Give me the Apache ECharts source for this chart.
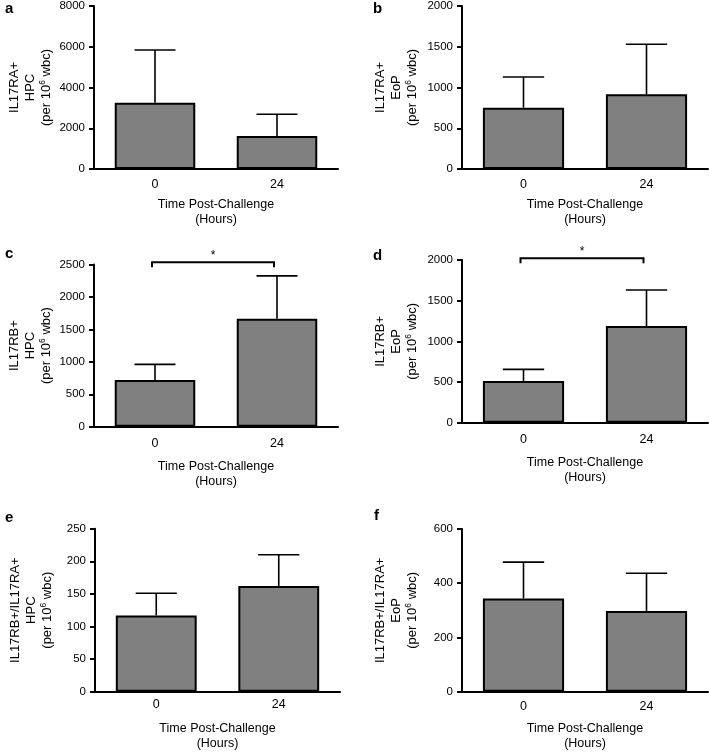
<!DOCTYPE html>
<html>
<head>
<meta charset="utf-8">
<script src="https://cdn.jsdelivr.net/npm/echarts@6/dist/echarts.min.js"></script>
<style>
html,body{margin:0;padding:0;background:#fff;}
#chart{width:709px;height:752px;}
</style>
</head>
<body>
<div id="chart"></div>
<script>
// ---- data ----
const categories = ['0', '24'];
const meanA = [3250, 1620];  const errA = [2590, 1070];
const meanB = [752, 916];    const errB = [377, 614];
const meanC = [719, 1663];   const errC = [241, 661];
const meanD = [513, 1189];   const errD = [143, 442];
const meanE = [117, 162];    const errE = [34, 48];
const meanF = [344, 298];    const errF = [134, 139];
const yMax = [8000, 2000, 2500, 2000, 250, 600];
const yInterval = [2000, 500, 500, 500, 50, 200];
const yTitleLine1 = ['IL17RA+', 'IL17RA+', 'IL17RB+', 'IL17RB+', 'IL17RB+/IL17RA+', 'IL17RB+/IL17RA+'];
const yTitleLine2 = ['HPC', 'EoP', 'HPC', 'EoP', 'HPC', 'EoP'];
const xTitle = 'Time Post-Challenge\n(Hours)';
const panelLetters = ['a', 'b', 'c', 'd', 'e', 'f'];
// significance brackets
const sigPanels = [2, 3];
const sigLevels = [2535, 2021];
const sigLabels = ['*', '*'];

const means = [meanA, meanB, meanC, meanD, meanE, meanF];
const errs = [errA, errB, errC, errD, errE, errF];

// ---- layout ----
const FONT = "'Liberation Sans', Arial, Helvetica, sans-serif";
const grids = [
  {left: 94, top: 6, width: 244, height: 163},
  {left: 462, top: 6, width: 246, height: 163},
  {left: 94, top: 264.5, width: 244, height: 162.2},
  {left: 462, top: 260, width: 246, height: 162.7},
  {left: 95, top: 528.7, width: 245, height: 163},
  {left: 462, top: 529, width: 246, height: 162.7}
];
const xLabelMargin = [9, 9, 10, 10.5, 6, 8];
const xNameGap = [28.5, 28.5, 32.5, 32.5, 29, 29];
const yNameGap = [40, 42, 40, 42, 40, 42];
const letterPos = [[5, 1], [373, 1], [5, 246], [373, 248], [5, 510], [374, 508]];

const chart = echarts.init(document.getElementById('chart'), null, {renderer: 'canvas'});

const xAxes = [], yAxes = [], series = [], graphics = [];
grids.forEach((g, i) => {
  xAxes.push({
    type: 'category', gridIndex: i, data: categories,
    axisLine: {lineStyle: {color: '#000', width: 2}},
    axisTick: {show: false},
    axisLabel: {color: '#000', fontSize: 12.5, fontFamily: FONT, margin: xLabelMargin[i]},
    name: xTitle, nameLocation: 'middle', nameGap: xNameGap[i],
    nameTextStyle: {color: '#000', fontSize: 12.5, fontFamily: FONT, lineHeight: 15}
  });
  const nm = '{t|' + yTitleLine1[i] + '}\n{t|' + yTitleLine2[i] + '}\n{t|(per 10}{s|6}{t| wbc)}';
  yAxes.push({
    type: 'value', gridIndex: i, min: 0, max: yMax[i], interval: yInterval[i],
    axisLine: {show: true, lineStyle: {color: '#000', width: 2}},
    axisTick: {show: true, length: 5, lineStyle: {color: '#000', width: 2}},
    splitLine: {show: false},
    axisLabel: {color: '#000', fontSize: 11.5, fontFamily: FONT, margin: 9,
                formatter: v => String(v)},
    name: nm, nameLocation: 'middle', nameGap: yNameGap[i], nameRotate: 90,
    nameTextStyle: {
      color: '#000', fontFamily: FONT, fontSize: 13, lineHeight: 16, align: 'center',
      rich: {
        t: {fontSize: 13, lineHeight: 16, fontFamily: FONT, color: '#000'},
        s: {fontSize: 8.5, lineHeight: 8, verticalAlign: 'top', fontFamily: FONT, color: '#000'}
      }
    }
  });
  series.push({
    type: 'bar', xAxisIndex: i, yAxisIndex: i, data: means[i], barWidth: '66%',
    itemStyle: {color: '#808080', borderColor: '#000', borderWidth: 2},
    z: 3, silent: true
  });
  series.push({
    type: 'custom', xAxisIndex: i, yAxisIndex: i, clip: false, z: 2, silent: true,
    data: means[i].map((m, k) => [k, m, m + errs[i][k]]),
    encode: {x: 0, y: [1, 2]},
    renderItem: function (params, api) {
      const c = api.value(0);
      const lo = api.coord([c, api.value(1)]);
      const hi = api.coord([c, api.value(2)]);
      const half = api.size([1, 0])[0] * 0.168;
      return {
        type: 'group',
        children: [
          {type: 'line', shape: {x1: lo[0], y1: lo[1], x2: hi[0], y2: hi[1]}, style: {stroke: '#000', lineWidth: 1.6}},
          {type: 'line', shape: {x1: hi[0] - half, y1: hi[1], x2: hi[0] + half, y2: hi[1]}, style: {stroke: '#000', lineWidth: 1.6}}
        ]
      };
    }
  });
  graphics.push({
    type: 'text', left: letterPos[i][0], top: letterPos[i][1],
    style: {text: panelLetters[i], font: 'bold 15px ' + FONT, fill: '#000'}
  });
});

sigPanels.forEach((p, j) => {
  series.push({
    type: 'custom', xAxisIndex: p, yAxisIndex: p, clip: false, z: 4, silent: true,
    data: [[0, 1, sigLevels[j]]],
    encode: {x: 0, y: 2},
    renderItem: function (params, api) {
      const a = api.coord([api.value(0), api.value(2)]);
      const b = api.coord([api.value(1), api.value(2)]);
      const off = -3;
      return {
        type: 'group',
        children: [
          {type: 'polyline', shape: {points: [[a[0] + off, a[1] + 5], [a[0] + off, a[1]], [b[0] + off, b[1]], [b[0] + off, b[1] + 5]]},
           style: {stroke: '#000', lineWidth: 2, fill: null}},
          {type: 'text', x: (a[0] + b[0]) / 2 + off, y: a[1] - 7,
           style: {text: sigLabels[j], font: '12px ' + FONT, fill: '#000', align: 'center', verticalAlign: 'middle'}}
        ]
      };
    }
  });
});

chart.setOption({
  backgroundColor: '#fff',
  animation: false,
  textStyle: {fontFamily: FONT},
  grid: grids.map(g => Object.assign({containLabel: false}, g)),
  xAxis: xAxes,
  yAxis: yAxes,
  series: series,
  graphic: graphics
});
</script>
</body>
</html>
